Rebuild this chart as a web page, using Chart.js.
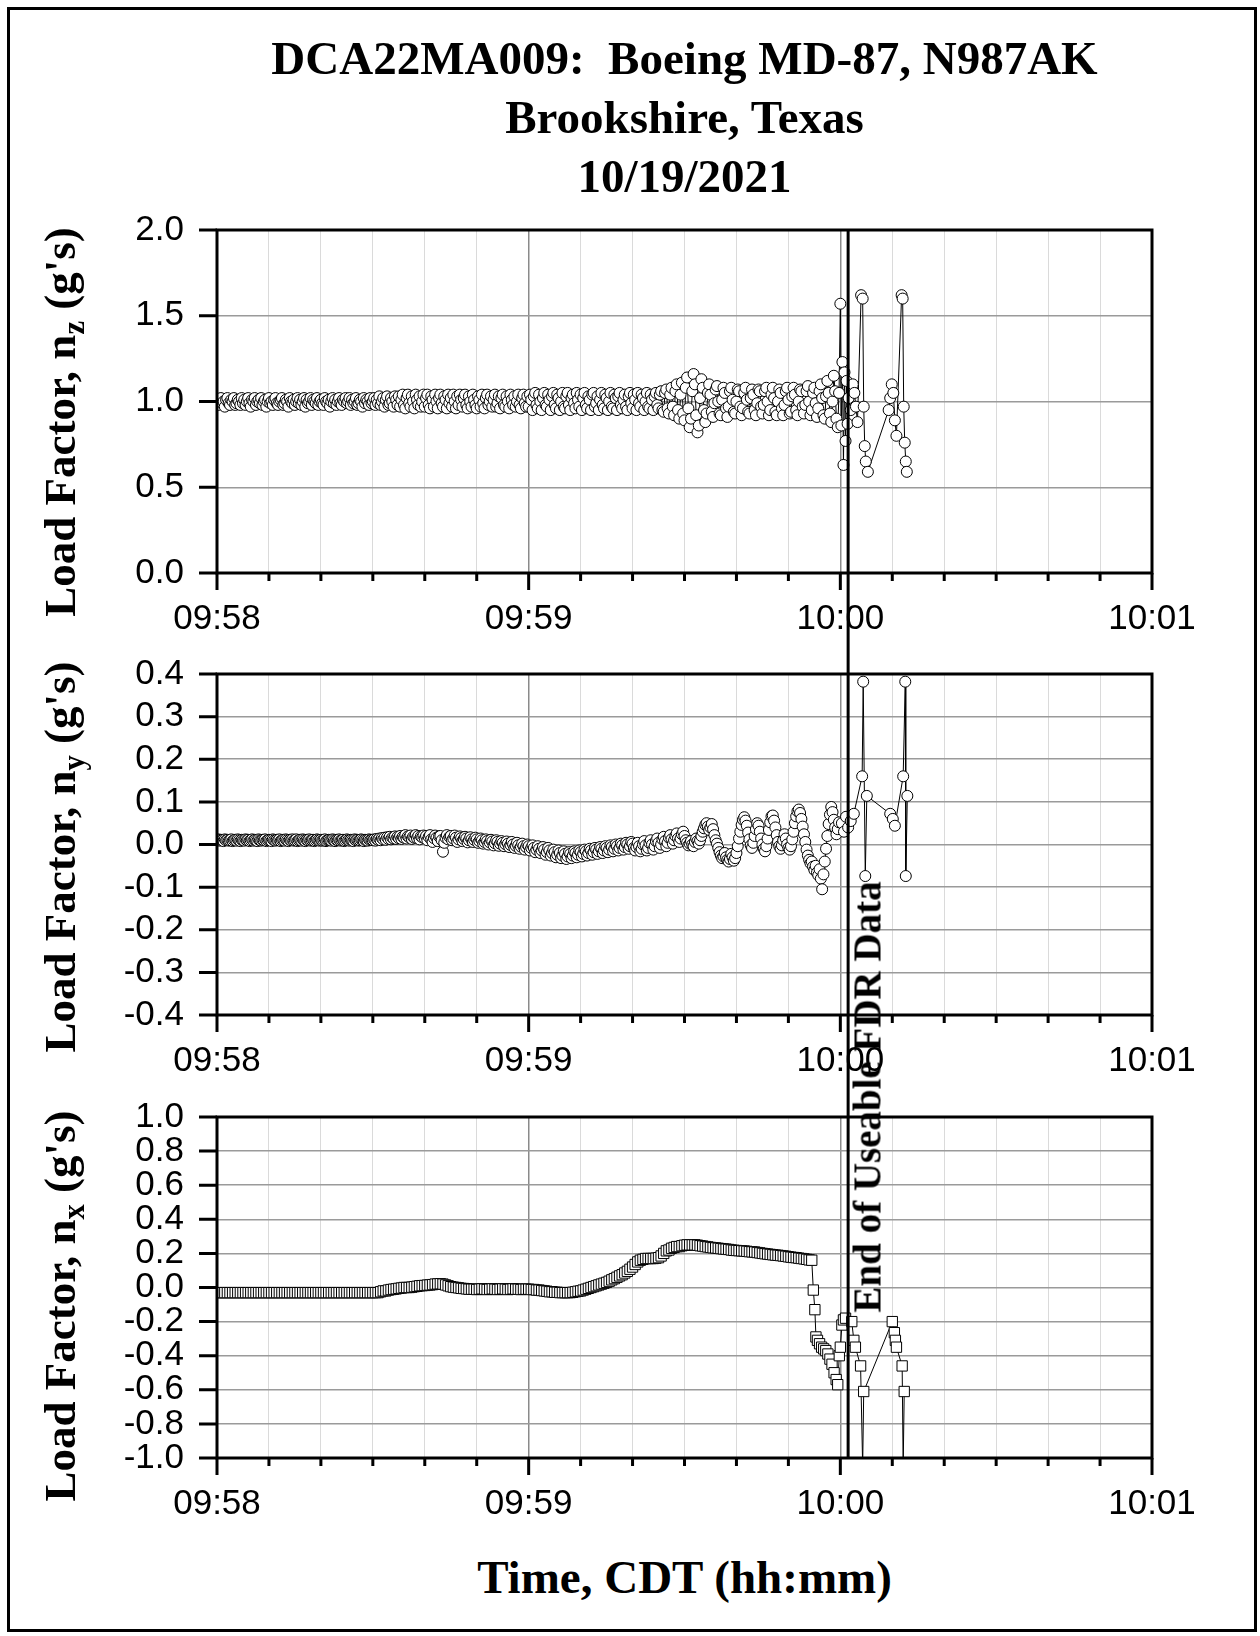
<!DOCTYPE html>
<html>
<head>
<meta charset="utf-8">
<title>DCA22MA009 load factors</title>
<script src="https://cdn.jsdelivr.net/npm/chart.js@4.4.0/dist/chart.umd.min.js"></script>
<style>
  body { margin: 0; background: #fff; }
  #page { position: relative; width: 1260px; height: 1636px; overflow: hidden; }
  #frame { position: absolute; left: 7px; top: 7px; width: 1250px; height: 1625px; box-sizing: border-box; border: 3px solid #000; }
  canvas { position: absolute; left: 0; }
  .serif { position: absolute; font-family: 'Liberation Serif', 'Times New Roman', serif; font-weight: bold; color: #000; white-space: nowrap; }
  #title { left: 217px; width: 935px; top: 29px; text-align: center; font-size: 47px; line-height: 59px; }
  .ylab { left: 60px; font-size: 45px; line-height: 1; transform: translate(-50%, -50%) rotate(-90deg); }
  .ylab sub { font-size: 0.68em; vertical-align: -0.3em; line-height: 0; }
  #xlab { left: 217px; width: 935px; top: 1577px; text-align: center; font-size: 47px; line-height: 1; transform: translateY(-50%); }
  #endlab { top: 1097px; font-size: 39px; line-height: 1; transform: translate(-50%, -50%) rotate(-90deg); }
</style>
</head>
<body>
<div id="page">
  <div id="frame"></div>
  <canvas id="nzChart" width="1260" height="440" style="top:200px"></canvas>
  <canvas id="nyChart" width="1260" height="445" style="top:640px"></canvas>
  <canvas id="nxChart" width="1260" height="455" style="top:1085px"></canvas>
  <div id="title" class="serif">DCA22MA009:&nbsp; Boeing MD-87, N987AK<br>Brookshire, Texas<br>10/19/2021</div>
  <div class="serif ylab" style="top:422px">Load Factor, n<sub>z</sub> (g's)</div>
  <div class="serif ylab" style="top:857px">Load Factor, n<sub>y</sub> (g's)</div>
  <div class="serif ylab" style="top:1306px">Load Factor, n<sub>x</sub> (g's)</div>
  <div id="xlab" class="serif">Time, CDT (hh:mm)</div>
  <div id="endlab" class="serif">End of Useable FDR Data</div>
</div>
<script>
// time is seconds after 09:58:00 CDT
const NZ_NY_STEP = 0.25;      // spacing of the regular nz / ny samples, from 0 s
const NX_STEP = 0.5;          // spacing of the regular nx samples, from 0 s
const END_OF_DATA = 121.5;    // end of useable FDR data

const minuteLabels = ['09:58', '09:59', '10:00', '10:01'];
const xTickSeconds = [0, 10, 20, 30, 40, 50, 60, 70, 80, 90, 100, 110, 120, 130, 140, 150, 160, 170, 180];
const nzTicks = [0, 0.5, 1.0, 1.5, 2.0];
const nyTicks = [-0.4, -0.3, -0.2, -0.1, 0, 0.1, 0.2, 0.3, 0.4];
const nxTicks = [-1.0, -0.8, -0.6, -0.4, -0.2, 0, 0.2, 0.4, 0.6, 0.8, 1.0];

// vertical load factor, 0 .. 119.75 s (one row = 5 s)
const nzBody = [
  1.00,0.98,1.01,1.02,0.99,1.00,0.97,1.01,1.02,0.99,0.98,1.01,1.00,1.02,0.98,0.99,1.01,1.00,0.98,1.02,
  0.99,1.01,0.98,1.00,1.02,0.99,0.97,1.01,1.00,1.02,0.98,1.00,1.01,0.99,1.02,0.98,1.00,1.01,0.97,1.00,
  1.02,0.99,1.00,0.98,1.01,1.02,0.99,0.98,1.00,1.01,1.02,0.98,0.99,1.01,1.00,0.97,1.02,1.00,0.99,1.01,
  0.98,1.00,1.02,0.99,1.01,0.98,1.00,1.02,0.97,1.01,0.99,1.00,1.02,0.98,1.01,1.00,0.99,1.02,0.98,1.00,
  1.01,0.99,0.98,1.02,1.00,0.99,1.01,0.97,1.00,1.02,0.99,1.01,0.98,1.00,1.02,0.99,0.98,1.01,1.00,1.02,
  0.99,1.00,1.02,0.98,1.01,0.99,1.00,1.02,0.98,0.99,1.01,1.00,0.97,1.02,0.99,1.01,1.00,0.98,1.02,0.99,
  1.00,1.02,0.98,1.01,0.99,1.03,0.98,1.00,1.02,0.97,1.01,1.03,0.98,0.99,1.02,1.00,0.97,1.03,1.01,0.98,
  1.03,0.97,1.01,1.04,0.98,0.96,1.02,1.04,0.99,0.97,1.03,1.00,0.96,1.04,1.01,0.98,1.03,0.97,1.00,1.04,
  0.97,1.02,1.04,0.98,0.96,1.03,1.01,0.97,1.04,1.00,0.96,1.02,1.04,0.99,0.97,1.03,1.01,0.96,1.04,0.99,
  1.02,0.97,1.04,1.00,0.96,1.03,0.98,1.04,1.01,0.97,1.02,1.04,0.98,0.96,1.03,1.00,0.97,1.04,1.01,0.98,
  0.96,1.03,1.01,0.97,1.04,0.99,0.96,1.02,1.04,0.98,1.00,1.03,0.97,1.01,1.04,0.97,0.99,1.03,0.96,1.02,
  1.04,0.98,0.97,1.03,1.00,0.96,1.04,1.01,0.98,1.03,0.97,1.00,1.04,0.98,0.96,1.02,1.04,0.99,0.97,1.03,
  0.97,1.04,1.01,0.95,1.03,1.05,0.98,0.96,1.04,1.00,0.95,1.02,1.05,0.98,0.97,1.04,1.01,0.95,1.03,1.05,
  0.98,0.96,1.04,1.02,0.95,1.00,1.05,0.97,0.96,1.03,1.05,0.98,0.95,1.02,1.04,0.99,0.96,1.05,1.01,0.97,
  1.04,0.95,1.02,1.05,0.98,0.96,1.03,1.01,0.95,1.04,1.05,0.97,0.99,1.03,0.95,1.01,1.05,0.98,0.96,1.04,
  1.02,0.95,1.00,1.05,0.97,0.96,1.04,1.02,0.95,1.03,1.05,0.98,0.96,1.01,1.04,0.97,0.95,1.03,1.05,0.99,
  0.96,1.04,1.01,0.95,1.05,0.99,0.97,1.04,1.02,0.95,1.00,1.05,0.97,0.96,1.04,1.01,0.95,1.03,1.05,0.98,
  0.96,1.04,1.06,0.95,0.94,1.05,1.07,0.96,0.93,1.04,1.08,0.97,0.92,1.06,1.10,0.95,0.90,1.04,1.11,0.93,
  0.89,1.08,1.14,0.96,0.85,0.90,1.06,1.16,1.10,0.92,0.82,0.86,1.02,1.13,1.08,0.95,0.88,0.93,1.05,1.10,
  1.04,0.94,0.91,0.99,1.07,1.09,1.00,0.93,0.92,1.01,1.08,1.05,0.96,0.91,0.97,1.06,1.08,1.01,0.94,0.93,
  1.00,1.07,1.06,0.97,0.92,0.96,1.05,1.08,1.01,0.94,0.93,1.02,1.07,1.04,0.95,0.92,0.99,1.07,1.06,0.97,
  0.93,0.98,1.06,1.08,1.00,0.92,0.95,1.04,1.08,1.02,0.94,0.92,1.00,1.07,1.05,0.96,0.92,0.98,1.06,1.08,
  1.01,0.93,0.94,1.03,1.08,1.04,0.95,0.92,1.00,1.07,1.06,0.97,0.93,0.98,1.06,1.09,1.00,0.92,0.95,1.05,
  1.08,0.99,0.91,0.96,1.06,1.10,1.02,0.92,0.90,1.03,1.12,1.05,0.93,0.88,1.00,1.15,1.06,0.90,0.85,1.05
];
const nzTailTime = [120.0,120.2,120.4,120.6,120.8,121.0,121.2,121.4,121.6,122.0,122.4,122.7,123.0,123.3,124.0,124.3,
  124.5,124.7,124.9,125.3,129.3,129.6,129.9,130.2,130.5,130.8,131.8,132.0,132.2,132.4,132.6,132.8];
const nzTailValue = [1.57,0.86,1.23,0.63,1.17,0.77,1.12,0.87,1.02,0.95,1.10,1.05,0.97,0.88,1.62,1.60,
  0.97,0.74,0.65,0.59,0.95,1.02,1.10,1.05,0.89,0.80,1.62,1.60,0.97,0.76,0.65,0.59];

// lateral load factor, 0 .. 119.75 s (one row = 5 s)
const nyBody = [
  0.010,0.012,0.009,0.011,0.010,0.008,0.012,0.010,0.011,0.009,0.010,0.012,0.008,0.010,0.011,0.009,0.012,0.010,0.008,0.011,
  0.010,0.009,0.012,0.010,0.011,0.008,0.010,0.012,0.009,0.011,0.010,0.008,0.012,0.010,0.009,0.011,0.010,0.012,0.008,0.010,
  0.011,0.010,0.008,0.012,0.010,0.009,0.011,0.010,0.012,0.008,0.010,0.011,0.009,0.012,0.010,0.008,0.011,0.010,0.012,0.009,
  0.010,0.012,0.008,0.010,0.011,0.009,0.012,0.010,0.008,0.011,0.010,0.012,0.009,0.010,0.011,0.008,0.010,0.012,0.010,0.009,
  0.011,0.009,0.010,0.012,0.008,0.010,0.011,0.010,0.009,0.012,0.010,0.008,0.011,0.010,0.012,0.009,0.010,0.011,0.008,0.010,
  0.012,0.010,0.009,0.011,0.010,0.008,0.012,0.010,0.011,0.009,0.010,0.012,0.010,0.008,0.011,0.010,0.009,0.012,0.010,0.011,
  0.010,0.012,0.009,0.013,0.011,0.014,0.010,0.015,0.012,0.016,0.011,0.017,0.013,0.018,0.012,0.016,0.014,0.019,0.013,0.018,
  0.015,0.020,0.013,0.018,0.016,0.022,0.014,0.019,0.017,0.021,0.013,0.018,0.016,0.022,0.015,0.020,0.012,0.019,0.017,0.021,
  0.014,0.020,0.010,0.018,0.022,0.012,0.006,0.015,0.021,0.016,0.008,0.019,0.020,0.010,-0.017,0.004,0.016,0.022,0.012,0.018,
  0.020,0.010,0.014,0.021,0.016,0.006,0.012,0.019,0.015,0.008,0.013,0.018,0.014,0.005,0.010,0.017,0.012,0.006,0.011,0.016,
  0.012,0.004,0.008,0.014,0.010,0.002,0.006,0.012,0.008,0.000,0.005,0.011,0.007,-0.002,0.003,0.010,0.006,-0.003,0.002,0.008,
  0.004,-0.004,0.001,0.007,0.002,-0.006,-0.001,0.006,0.000,-0.008,-0.003,0.004,-0.002,-0.010,-0.005,0.002,-0.004,-0.012,-0.006,0.000,
  -0.004,-0.014,-0.008,-0.002,-0.008,-0.018,-0.012,-0.004,-0.010,-0.020,-0.014,-0.006,-0.012,-0.024,-0.018,-0.008,-0.014,-0.026,-0.020,-0.012,
  -0.018,-0.030,-0.024,-0.014,-0.020,-0.032,-0.026,-0.016,-0.022,-0.034,-0.028,-0.018,-0.022,-0.032,-0.026,-0.016,-0.020,-0.030,-0.024,-0.014,
  -0.018,-0.028,-0.022,-0.012,-0.016,-0.026,-0.020,-0.010,-0.014,-0.024,-0.018,-0.008,-0.012,-0.022,-0.016,-0.006,-0.010,-0.020,-0.014,-0.004,
  -0.008,-0.018,-0.012,-0.002,-0.006,-0.016,-0.010,0.000,-0.004,-0.014,-0.008,0.002,-0.002,-0.012,-0.006,0.004,0.000,-0.010,-0.004,0.006,
  0.002,-0.008,-0.014,-0.006,0.004,-0.004,-0.016,-0.010,0.000,0.008,-0.002,-0.014,-0.008,0.004,0.010,0.000,-0.012,-0.004,0.008,0.014,
  0.004,-0.008,0.000,0.012,0.018,0.008,-0.004,0.004,0.016,0.022,0.012,0.002,0.010,0.020,0.026,0.014,0.006,0.014,0.024,0.030,
  0.020,0.010,0.004,-0.002,0.002,0.008,0.000,-0.004,0.006,0.014,0.008,0.002,0.010,0.020,0.030,0.038,0.046,0.050,0.042,0.034,
  0.040,0.048,0.036,0.022,0.010,0.002,-0.008,-0.018,-0.026,-0.032,-0.028,-0.020,-0.030,-0.036,-0.040,-0.034,-0.022,-0.030,-0.038,-0.032,
  -0.020,-0.004,0.014,0.030,0.046,0.058,0.064,0.056,0.044,0.028,0.012,-0.002,-0.008,0.004,0.020,0.036,0.050,0.044,0.030,0.014,
  0.000,-0.010,-0.016,-0.004,0.014,0.034,0.052,0.066,0.068,0.056,0.040,0.022,0.006,-0.004,-0.010,-0.002,0.010,0.024,0.014,0.000,
  -0.008,-0.012,-0.004,0.012,0.030,0.050,0.066,0.078,0.082,0.074,0.060,0.042,0.024,0.006,-0.012,-0.026,-0.036,-0.044,-0.040,-0.052,
  -0.060,-0.050,-0.066,-0.072,-0.058,-0.080,-0.105,-0.070,-0.040,-0.010,0.020,0.048,0.070,0.088,0.076,0.058,0.040,0.024,0.036,0.052
];
const nyTailTime = [120.3,120.7,121.1,121.5,122.0,122.6,124.2,124.4,124.8,125.1,129.6,130.1,130.5,132.1,132.5,132.6,132.9];
const nyTailValue = [0.05,0.03,0.065,0.04,0.055,0.072,0.16,0.382,-0.074,0.114,0.072,0.06,0.044,0.16,0.382,-0.074,0.114];

// longitudinal load factor, 0 .. 114.5 s (one row = 10 s)
const nxBody = [
  -0.03,-0.03,-0.03,-0.03,-0.03,-0.03,-0.03,-0.03,-0.03,-0.03,-0.03,-0.03,-0.03,-0.03,-0.03,-0.03,-0.03,-0.03,-0.03,-0.03,
  -0.03,-0.03,-0.03,-0.03,-0.03,-0.03,-0.03,-0.03,-0.03,-0.03,-0.03,-0.03,-0.03,-0.03,-0.03,-0.03,-0.03,-0.03,-0.03,-0.03,
  -0.03,-0.03,-0.03,-0.03,-0.03,-0.03,-0.03,-0.03,-0.03,-0.03,-0.03,-0.03,-0.03,-0.03,-0.03,-0.03,-0.03,-0.03,-0.03,-0.03,
  -0.03,-0.03,-0.03,-0.025,-0.02,-0.02,-0.015,-0.012,-0.01,-0.008,-0.005,-0.003,0.0,0.0,0.0,0.002,0.005,0.007,0.01,0.011,
  0.012,0.014,0.015,0.017,0.02,0.021,0.022,0.02,0.015,0.01,0.005,0.002,0.0,-0.002,-0.005,-0.006,-0.008,-0.01,-0.01,-0.01,
  -0.012,-0.01,-0.008,-0.01,-0.012,-0.01,-0.008,-0.01,-0.012,-0.01,-0.008,-0.01,-0.012,-0.01,-0.008,-0.01,-0.01,-0.012,-0.01,-0.01,
  -0.01,-0.012,-0.012,-0.015,-0.015,-0.018,-0.02,-0.022,-0.025,-0.025,-0.028,-0.028,-0.03,-0.03,-0.03,-0.03,-0.03,-0.028,-0.025,-0.022,
  -0.02,-0.015,-0.01,-0.005,0.0,0.005,0.01,0.015,0.02,0.025,0.03,0.037,0.045,0.052,0.06,0.068,0.075,0.085,0.095,0.107,
  0.12,0.135,0.15,0.16,0.165,0.17,0.17,0.17,0.17,0.172,0.175,0.185,0.2,0.215,0.22,0.23,0.235,0.24,0.24,0.245,
  0.248,0.25,0.25,0.25,0.25,0.248,0.245,0.243,0.24,0.238,0.235,0.233,0.232,0.23,0.228,0.226,0.225,0.223,0.22,0.218,
  0.217,0.216,0.215,0.214,0.212,0.21,0.209,0.208,0.205,0.203,0.2,0.198,0.196,0.194,0.192,0.19,0.189,0.187,0.185,0.183,
  0.18,0.178,0.176,0.175,0.172,0.17,0.168,0.165,0.162,0.16
];
const nxTailTime = [114.8,115.1,115.3,115.6,116.0,116.4,116.8,117.2,117.6,118.0,118.4,118.8,119.2,119.5,119.8,120.0,
  120.3,120.6,121.0,122.2,122.6,122.9,123.9,124.3,124.5,130.0,130.4,130.6,130.8,131.9,132.1,132.3];
const nxTailValue = [-0.015,-0.13,-0.29,-0.31,-0.33,-0.35,-0.36,-0.37,-0.39,-0.42,-0.45,-0.50,-0.54,-0.57,-0.40,-0.35,
  -0.22,-0.19,-0.18,-0.20,-0.31,-0.35,-0.46,-1.05,-0.61,-0.20,-0.265,-0.31,-0.35,-0.46,-1.05,-0.61];

const tickFont = { family: "'Liberation Sans', Arial, sans-serif", size: 35 };

function toPoints(body, step, tailTime, tailValue) {
  const pts = body.map((v, i) => ({ x: i * step, y: v }));
  tailTime.forEach((t, i) => pts.push({ x: t, y: tailValue[i] }));
  return pts;
}

// plot box, outward ticks and the end-of-data marker
const panelFrame = {
  id: 'panelFrame',
  afterDraw(chart, args, opts) {
    const { ctx, chartArea: a } = chart;
    const x = chart.scales.x, y = chart.scales.y;
    ctx.save();
    ctx.strokeStyle = '#000';
    ctx.lineWidth = 3;
    ctx.strokeRect(a.left, a.top, a.right - a.left, a.bottom - a.top);
    ctx.beginPath();
    y.ticks.forEach(t => {
      const py = y.getPixelForValue(t.value);
      ctx.moveTo(a.left - 18, py);
      ctx.lineTo(a.left, py);
    });
    x.ticks.forEach(t => {
      const px = x.getPixelForValue(t.value);
      ctx.moveTo(px, a.bottom);
      ctx.lineTo(px, a.bottom + (t.value % 60 === 0 ? 17 : 8));
    });
    ctx.stroke();

    const ex = x.getPixelForValue(END_OF_DATA);
    ctx.beginPath();
    ctx.moveTo(ex, opts.fromTop ? a.top : 0);
    ctx.lineTo(ex, opts.toBottom ? a.bottom : chart.height);
    ctx.stroke();
    ctx.restore();
  }
};

function makePanel(id, points, yTicks, marker, box) {
  return new Chart(document.getElementById(id), {
    type: 'scatter',
    data: {
      datasets: [{
        data: points,
        showLine: true,
        borderColor: '#000',
        borderWidth: 1,
        pointStyle: marker.style,
        pointRadius: marker.radius,
        pointHoverRadius: marker.radius,
        pointBackgroundColor: '#fff',
        pointBorderColor: '#000',
        pointBorderWidth: 1
      }]
    },
    options: {
      responsive: false,
      animation: false,
      events: [],
      layout: { padding: { top: box.top, left: 0, right: 108, bottom: 0 } },
      plugins: {
        legend: { display: false },
        tooltip: { enabled: false },
        panelFrame: { fromTop: box.fromTop, toBottom: box.toBottom }
      },
      scales: {
        x: {
          type: 'linear',
          min: 0,
          max: 180,
          afterBuildTicks: s => { s.ticks = xTickSeconds.map(v => ({ value: v })); },
          afterFit: s => { s.height = box.xHeight; },
          border: { display: false },
          grid: {
            drawTicks: false,
            color: c => (c.tick && c.tick.value % 60 === 0) ? '#8a8a8a' : '#dadada',
            lineWidth: c => (c.tick && c.tick.value % 60 === 0) ? 1.5 : 1
          },
          ticks: {
            autoSkip: false,
            maxRotation: 0,
            padding: 25,
            color: '#000',
            font: tickFont,
            callback: v => v % 60 === 0 ? minuteLabels[v / 60] : ''
          }
        },
        y: {
          type: 'linear',
          min: yTicks[0],
          max: yTicks[yTicks.length - 1],
          afterBuildTicks: s => { s.ticks = yTicks.map(v => ({ value: v })); },
          // fixed axis width; the layout padding already leaves room for the end labels
          afterFit: s => { s.width = 217; s.paddingTop = 0; s.paddingBottom = 0; },
          border: { display: false },
          grid: { drawTicks: false, color: '#9a9a9a', lineWidth: 1.5 },
          ticks: {
            autoSkip: false,
            padding: 33,
            color: '#000',
            font: tickFont,
            callback: v => (Math.abs(v) < 1e-9 ? 0 : v).toFixed(1)
          }
        }
      }
    },
    plugins: [panelFrame]
  });
}

Chart.defaults.font.family = tickFont.family;

makePanel('nzChart', toPoints(nzBody, NZ_NY_STEP, nzTailTime, nzTailValue), nzTicks,
  { style: 'circle', radius: 5.5 }, { top: 30, xHeight: 67, fromTop: true, toBottom: false });
makePanel('nyChart', toPoints(nyBody, NZ_NY_STEP, nyTailTime, nyTailValue), nyTicks,
  { style: 'circle', radius: 5.5 }, { top: 34, xHeight: 70, fromTop: false, toBottom: false });
const nxChart = makePanel('nxChart', toPoints(nxBody, NX_STEP, nxTailTime, nxTailValue), nxTicks,
  { style: 'rect', radius: 7.3 }, { top: 32, xHeight: 82, fromTop: false, toBottom: true });

// label sits just right of the end-of-data line
const endX = nxChart.scales.x.getPixelForValue(END_OF_DATA);
document.getElementById('endlab').style.left = (endX + 19) + 'px';
</script>
</body>
</html>
